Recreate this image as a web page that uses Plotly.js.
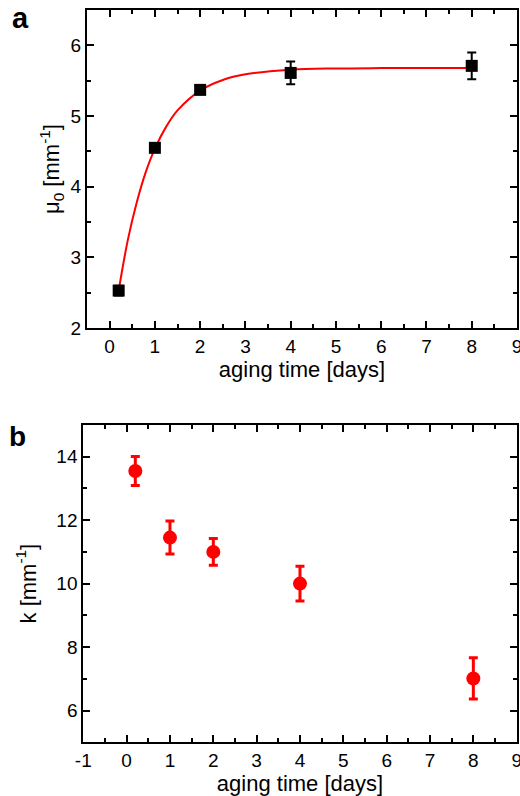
<!DOCTYPE html>
<html><head><meta charset="utf-8">
<script src="https://cdn.plot.ly/plotly-3.0.1.min.js"></script>
<style>html,body{margin:0;padding:0;background:#fff}#chart{width:520px;height:796px}</style>
</head><body><div id="chart"></div>
<script>
// Panel a: mu0 vs aging time
const timeA = [0.2, 1, 2, 4, 8];
const mu0 = [2.53, 4.55, 5.37, 5.61, 5.71];
const mu0Err = [0.07, 0.05, 0.04, 0.16, 0.19];
// fit curve
const fitX = [0.2, 0.4, 0.6, 0.8, 1.0, 1.25, 1.5, 2, 2.5, 3, 4, 5, 6, 8];
const fitY = [2.53, 3.24, 3.78, 4.21, 4.54, 4.85, 5.08, 5.36, 5.51, 5.59, 5.655, 5.673, 5.678, 5.68];
// Panel b: k vs aging time
const timeB = [0.2, 1, 2, 4, 8];
const kVal = [13.55, 11.45, 11.0, 10.0, 7.01];
const kErr = [0.46, 0.52, 0.42, 0.55, 0.65];
// tick labels
const xTicksA = [0, 1, 2, 3, 4, 5, 6, 7, 8, 9];
const xTicksB = [-1, 0, 1, 2, 3, 4, 5, 6, 7, 8, 9];
const xTickTextB = ['-1', '0', '1', '2', '3', '4', '5', '6', '7', '8', '9'];

const fam = 'Liberation Sans, Arial, sans-serif';
const tickFont = {family: fam, size: 19, color: '#000'};
const titleFont = {family: fam, size: 22, color: '#000'};
const minorTicks = (d) => ({dtick: d, ticklen: 4, tickwidth: 2, tickcolor: '#000', ticks: 'inside'});
const axBase = {
  showline: true, linecolor: '#000', linewidth: 2, mirror: 'ticks',
  ticks: 'inside', ticklen: 7, tickwidth: 2, tickcolor: '#000',
  showgrid: false, zeroline: false, tickfont: tickFont, ticklabeloverflow: 'allow'
};
const data = [
  {x: fitX, y: fitY, type: 'scatter', mode: 'lines', line: {color: '#ff0000', width: 2, shape: 'spline'},
   xaxis: 'x', yaxis: 'y'},
  {x: timeA, y: mu0, type: 'scatter', mode: 'markers',
   marker: {symbol: 'square', size: 12, color: '#000'},
   error_y: {type: 'data', array: mu0Err, visible: true, color: '#000', thickness: 2, width: 4.5},
   xaxis: 'x', yaxis: 'y'},
  {x: timeB, y: kVal, type: 'scatter', mode: 'markers',
   marker: {symbol: 'circle', size: 14, color: '#ff0000'},
   error_y: {type: 'data', array: kErr, visible: true, color: '#ff0000', thickness: 3, width: 4.5},
   xaxis: 'x2', yaxis: 'y2'}
];
const layout = {
  width: 520, height: 796, showlegend: false,
  margin: {l: 0, r: 0, t: 0, b: 0},
  paper_bgcolor: '#fff', plot_bgcolor: '#fff', font: tickFont,
  xaxis: Object.assign({}, axBase, {domain: [0.1673, 0.9942], range: [-0.5, 9],
    tickmode: 'array', tickvals: xTicksA, ticktext: xTicksA.map(String),
    minor: minorTicks(0.5),
    anchor: 'y', title: {text: 'aging time [days]', font: titleFont, standoff: 0}}),
  yaxis: Object.assign({}, axBase, {domain: [0.5879, 0.9874], range: [2, 6.5], dtick: 1, tick0: 0,
    minor: minorTicks(0.5),
    anchor: 'x', title: {text: 'μ<sub>0</sub> [mm<sup>-1</sup>]', font: titleFont, standoff: 5}}),
  xaxis2: Object.assign({}, axBase, {domain: [0.1602, 0.9936], range: [-1, 9],
    tickmode: 'array', tickvals: xTicksB, ticktext: xTickTextB,
    minor: minorTicks(0.5),
    anchor: 'y2', title: {text: 'aging time [days]', font: titleFont, standoff: 0}}),
  yaxis2: Object.assign({}, axBase, {domain: [0.0675, 0.4661], range: [5, 15], dtick: 2, tick0: 0,
    minor: minorTicks(1),
    anchor: 'x2', title: {text: 'k [mm<sup>-1</sup>]', font: titleFont, standoff: 14}}),
  annotations: [
    {text: '<b>a</b>', x: 20/520, y: 1 - 18/796, xref: 'paper', yref: 'paper', xanchor: 'center', yanchor: 'middle',
     showarrow: false, font: {family: fam, size: 29, color: '#000'}},
    {text: '<b>b</b>', x: 17/520, y: 1 - 436/796, xref: 'paper', yref: 'paper', xanchor: 'center', yanchor: 'middle',
     showarrow: false, font: {family: fam, size: 28, color: '#000'}}
  ]
};
Plotly.newPlot('chart', data, layout, {displayModeBar: false, staticPlot: true});
</script></body></html>
